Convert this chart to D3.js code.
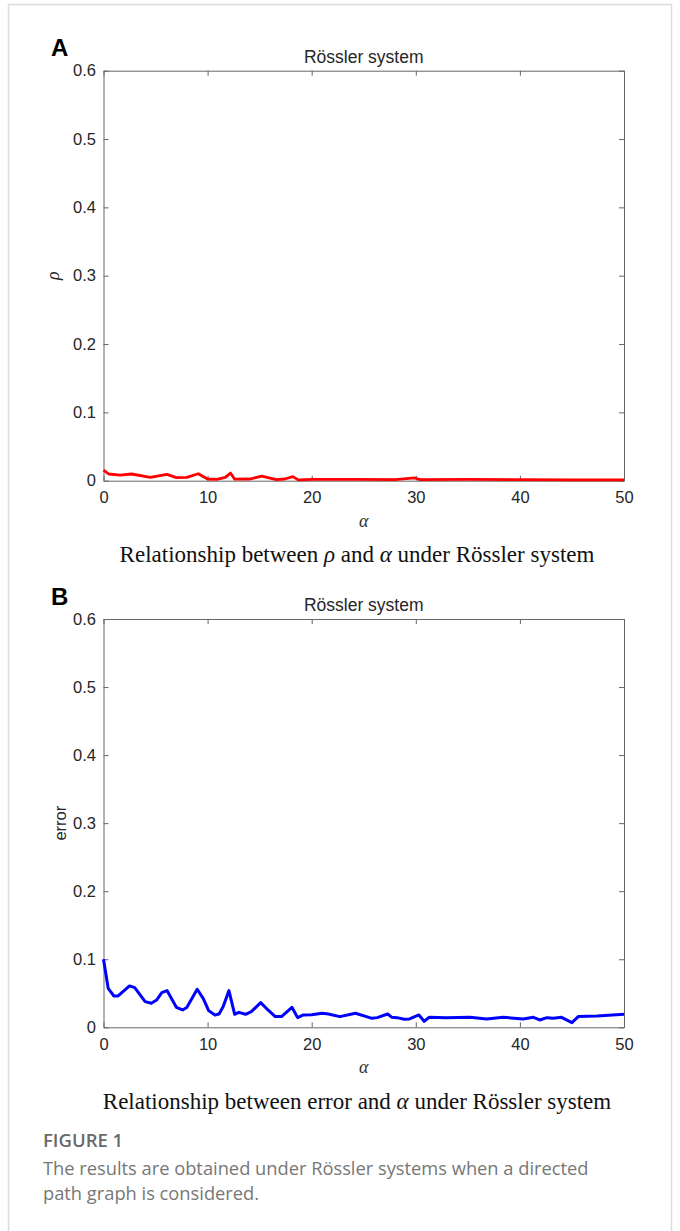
<!DOCTYPE html>
<html>
<head>
<meta charset="utf-8">
<script src="https://cdn.jsdelivr.net/npm/d3@7"></script>
<style>
  body { margin: 0; background: #fff; }
  svg { display: block; }
</style>
</head>
<body>
<div id="chart"></div>
<script>
/* ===== Rössler system: rho and error vs alpha ===== */

// x axis
const xTicks = [0, 10, 20, 30, 40, 50];
const yTicks = [0, 0.1, 0.2, 0.3, 0.4, 0.5, 0.6];
const yTickLabels = ['0', '0.1', '0.2', '0.3', '0.4', '0.5', '0.6'];

// panel A: rho vs alpha (red)
const rhoAlpha = [0, 0.5, 1.6, 2.7, 4.5, 6.1, 7.0, 8.0, 9.1, 10.0, 10.9, 11.7, 12.2, 12.6, 14.1, 15.2, 16.6, 17.4, 18.2, 18.7, 20.1, 24, 28, 29.9, 30.4, 35, 40, 45, 50];
const rhoValues = [0.0156, 0.0098, 0.0083, 0.0098, 0.0049, 0.0093, 0.0044, 0.0049, 0.0102, 0.0025, 0.002, 0.0049, 0.0112, 0.0022, 0.0025, 0.0068, 0.0015, 0.0025, 0.0059, 0.0012, 0.0018, 0.002, 0.0016, 0.0040, 0.0015, 0.0018, 0.0015, 0.0012, 0.0012];

// panel B: error vs alpha (blue)
const errAlpha = [0, 0.45, 1.0, 1.4, 2.5, 3.0, 4.0, 4.6, 5.1, 5.6, 6.1, 7.0, 7.6, 8.0, 9.0, 9.6, 10.1, 10.7, 11.1, 11.5, 12.05, 12.6, 13.0, 13.65, 14.2, 15.1, 15.8, 16.5, 17.1, 18.1, 18.65, 19.2, 20.0, 21.0, 21.6, 22.7, 24.2, 25.8, 26.3, 27.3, 27.7, 28.2, 28.9, 29.4, 30.3, 30.8, 31.3, 32.9, 35.2, 36.8, 38.4, 40.3, 41.3, 41.9, 42.6, 43.2, 44.0, 45.0, 45.6, 47.4, 50];
const errValues = [0.100, 0.0573, 0.046, 0.046, 0.0608, 0.0583, 0.0377, 0.0353, 0.040, 0.051, 0.054, 0.0294, 0.0255, 0.029, 0.0559, 0.0417, 0.0245, 0.0181, 0.0196, 0.0304, 0.0539, 0.0191, 0.022, 0.0191, 0.023, 0.0363, 0.0255, 0.0157, 0.0157, 0.0294, 0.0142, 0.0181, 0.0186, 0.0206, 0.0196, 0.0157, 0.0206, 0.0132, 0.0142, 0.0196, 0.0147, 0.0142, 0.0118, 0.0123, 0.0181, 0.0088, 0.0147, 0.0142, 0.0147, 0.0123, 0.0147, 0.0123, 0.0147, 0.0108, 0.0142, 0.0132, 0.0147, 0.0069, 0.0157, 0.0167, 0.0191];

const W = 680, H = 1231;
const axisColor = '#666';
const labelColor = '#262626';
const sansFont = '"Liberation Sans", Arial, Helvetica, sans-serif';
const serifFont = '"Liberation Serif", "Times New Roman", serif';

const svg = d3.select('#chart')
  .append('svg')
  .attr('width', W)
  .attr('height', H);

// outer frame of the figure card
svg.append('rect')
  .attr('x', 8.5).attr('y', 4.5)
  .attr('width', 663).attr('height', H + 20)
  .attr('fill', 'none')
  .attr('stroke', '#dcdcdc')
  .attr('stroke-width', 1.5);

function drawPanel(opts) {
  const left = 103.5, right = 624;
  const top = opts.top, bottom = opts.bottom;

  const x = d3.scaleLinear().domain([0, 50]).range([left, right]);
  const y = d3.scaleLinear().domain([0, 0.6]).range([bottom, top]);

  const g = svg.append('g');

  // panel letter
  g.append('text')
    .attr('x', 51).attr('y', top - 14.5)
    .attr('font-family', sansFont)
    .attr('font-size', '24px')
    .attr('font-weight', 'bold')
    .attr('fill', '#000')
    .text(opts.letter);

  // title
  g.append('text')
    .attr('x', (left + right) / 2).attr('y', top - 8)
    .attr('text-anchor', 'middle')
    .attr('font-family', sansFont)
    .attr('font-size', '17.5px')
    .attr('fill', labelColor)
    .text('Rössler system');

  // axes, MATLAB box style with inward ticks
  const styleAxis = sel => {
    sel.select('.domain').attr('stroke', axisColor);
    sel.selectAll('.tick line').attr('stroke', axisColor);
    sel.selectAll('.tick text')
      .attr('fill', labelColor)
      .attr('font-family', sansFont)
      .attr('font-size', '16.5px');
  };

  g.append('g')
    .attr('transform', `translate(0,${bottom})`)
    .call(d3.axisBottom(x).tickValues(xTicks).tickSize(-5).tickSizeOuter(0).tickPadding(10.5).tickFormat(d3.format('d')))
    .call(styleAxis);

  g.append('g')
    .attr('transform', `translate(0,${top})`)
    .call(d3.axisTop(x).tickValues(xTicks).tickSize(-5).tickSizeOuter(0).tickFormat(''))
    .call(styleAxis);

  g.append('g')
    .attr('transform', `translate(${left},0)`)
    .call(d3.axisLeft(y).tickValues(yTicks).tickSize(-5).tickSizeOuter(0).tickPadding(7.5)
      .tickFormat((d, i) => yTickLabels[i]))
    .call(styleAxis);

  g.append('g')
    .attr('transform', `translate(${right},0)`)
    .call(d3.axisRight(y).tickValues(yTicks).tickSize(-5).tickSizeOuter(0).tickFormat(''))
    .call(styleAxis);

  // y label
  g.append('text')
    .attr('transform', `translate(${opts.ylabelX},${(top + bottom) / 2}) rotate(-90)`)
    .attr('text-anchor', 'middle')
    .attr('font-family', opts.ylabelSerif ? serifFont : sansFont)
    .attr('font-style', opts.ylabelSerif ? 'italic' : 'normal')
    .attr('font-size', opts.ylabelSerif ? '18px' : '16.5px')
    .attr('fill', labelColor)
    .text(opts.ylabel);

  // x label
  g.append('text')
    .attr('x', (left + right) / 2).attr('y', bottom + 46)
    .attr('text-anchor', 'middle')
    .attr('font-family', serifFont)
    .attr('font-style', 'italic')
    .attr('font-size', '18px')
    .attr('fill', '#333')
    .text('α');

  // caption below the panel
  const cap = g.append('text')
    .attr('x', 357).attr('y', bottom + 81.5)
    .attr('text-anchor', 'middle')
    .attr('font-family', serifFont)
    .attr('font-size', '23px')
    .attr('fill', '#111');
  cap.append('tspan').text('Relationship between ');
  cap.append('tspan').attr('font-style', opts.capItalic ? 'italic' : 'normal').text(opts.capVar);
  cap.append('tspan').text(' and ');
  cap.append('tspan').attr('font-style', 'italic').text('α');
  cap.append('tspan').text(' under Rössler system');

  // series line
  const pts = opts.xs.map((a, i) => [a, opts.ys[i]]);
  const line = d3.line()
    .x(d => x(d[0]))
    .y(d => y(d[1]));

  g.append('path')
    .datum(pts)
    .attr('fill', 'none')
    .attr('stroke', opts.color)
    .attr('stroke-width', opts.width)
    .attr('stroke-linejoin', 'round')
    .attr('d', line);
}

drawPanel({
  letter: 'A', top: 70.7, bottom: 480.7,
  ylabel: 'ρ', ylabelSerif: true, ylabelX: 59,
  capVar: 'ρ', capItalic: true,
  xs: rhoAlpha, ys: rhoValues, color: '#ff0000', width: 2.8
});

drawPanel({
  letter: 'B', top: 619, bottom: 1027.3,
  ylabel: 'error', ylabelSerif: false, ylabelX: 66,
  capVar: 'error', capItalic: false,
  xs: errAlpha, ys: errValues, color: '#0000ff', width: 3
});

// figure caption
const figCap = svg.append('g')
  .attr('font-family', '"Open Sans", "Noto Sans", sans-serif');

figCap.append('text')
  .attr('x', 43).attr('y', 1147)
  .attr('font-size', '18.5px')
  .attr('font-weight', 600)
  .attr('fill', '#6a6a6a')
  .text('FIGURE 1');

figCap.selectAll('.cap-line')
  .data(['The results are obtained under Rössler systems when a directed', 'path graph is considered.'])
  .join('text')
  .attr('class', 'cap-line')
  .attr('x', 43)
  .attr('y', (d, i) => 1175 + i * 25)
  .attr('font-size', '18.3px')
  .attr('fill', '#777')
  .text(d => d);
</script>
</body>
</html>
